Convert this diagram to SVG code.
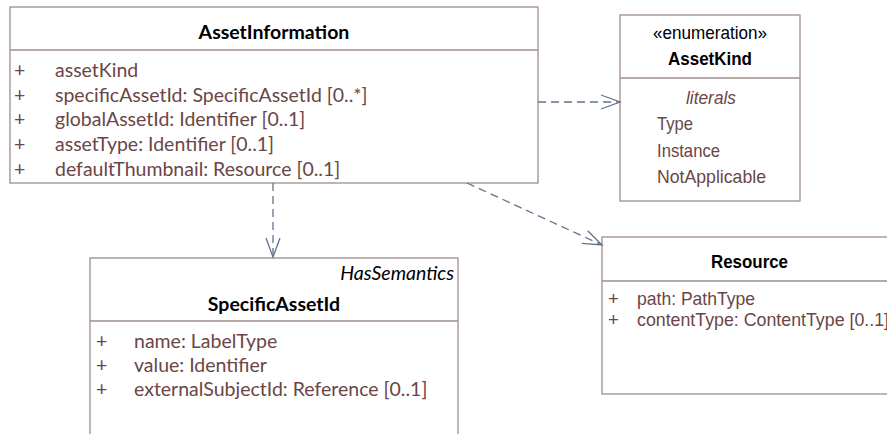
<svg xmlns="http://www.w3.org/2000/svg" width="887" height="434" viewBox="0 0 887 434">
<defs>
<style>
.box{fill:#fff;stroke:#a08c8c;stroke-width:1.3}
.sep{stroke:#a08c8c;stroke-width:1.3}
.cal{font-family:Lato,"Open Sans","DejaVu Sans",sans-serif;font-size:19.5px}
.ari{font-family:"Liberation Sans",Arial,sans-serif;font-size:18.5px}
.attr{fill:#6a4646}
.title{fill:#000;font-weight:bold}
.con{fill:none;stroke:#65718f;stroke-width:1.3;stroke-dasharray:8,5}
</style>
<marker id="open" markerUnits="userSpaceOnUse" markerWidth="22" markerHeight="16" refX="19" refY="7" orient="auto" viewBox="-1 -1 22 16">
<path d="M0,0 L19,7 L0,14" fill="none" stroke="#65718f" stroke-width="1.3"/>
</marker>
</defs>
<rect width="887" height="434" fill="#fff"/>
<g id="AssetInformation">
<rect class="box" x="10" y="7" width="528" height="176"/>
<line class="sep" x1="10" y1="50" x2="538" y2="50"/>
<text class="cal title" x="274" y="39" text-anchor="middle">AssetInformation</text>
<g class="cal attr">
<text x="14" y="77">+</text><text x="55" y="77">assetKind</text>
<text x="14" y="102">+</text><text x="55" y="102">specificAssetId: SpecificAssetId [0..*]</text>
<text x="14" y="126">+</text><text x="55" y="126">globalAssetId: Identifier [0..1]</text>
<text x="14" y="151">+</text><text x="55" y="151">assetType: Identifier [0..1]</text>
<text x="14" y="176">+</text><text x="55" y="176">defaultThumbnail: Resource [0..1]</text>
</g>
</g>
<g id="AssetKind">
<rect class="box" x="620" y="15" width="180" height="186"/>
<line class="sep" x1="620" y1="78" x2="800" y2="78"/>
<text class="ari" x="653" y="39" textLength="114" lengthAdjust="spacingAndGlyphs" fill="#000">«enumeration»</text>
<text class="ari title" x="668" y="65" textLength="84" lengthAdjust="spacingAndGlyphs">AssetKind</text>
<g class="ari attr">
<text x="686" y="104" textLength="50" lengthAdjust="spacingAndGlyphs" font-style="italic">literals</text>
<text x="657" y="130" textLength="36" lengthAdjust="spacingAndGlyphs">Type</text>
<text x="657" y="157" textLength="63" lengthAdjust="spacingAndGlyphs">Instance</text>
<text x="657" y="183" textLength="109" lengthAdjust="spacingAndGlyphs">NotApplicable</text>
</g>
</g>
<g id="SpecificAssetId">
<rect class="box" x="90" y="258" width="368" height="190"/>
<line class="sep" x1="90" y1="321" x2="458" y2="321"/>
<text class="cal" x="454" y="280" text-anchor="end" font-style="italic" fill="#000">HasSemantics</text>
<text class="cal title" x="274" y="311" text-anchor="middle">SpecificAssetId</text>
<g class="cal attr">
<text x="96" y="348">+</text><text x="134" y="348">name: LabelType</text>
<text x="96" y="372">+</text><text x="134" y="372">value: Identifier</text>
<text x="96" y="396">+</text><text x="134" y="396">externalSubjectId: Reference [0..1]</text>
</g>
</g>
<g id="Resource">
<rect class="box" x="602" y="237" width="296" height="157"/>
<line class="sep" x1="602" y1="281" x2="898" y2="281"/>
<text class="ari title" x="711" y="268" textLength="77" lengthAdjust="spacingAndGlyphs">Resource</text>
<g class="ari attr">
<text x="608" y="305">+</text><text x="637" y="305" textLength="118" lengthAdjust="spacingAndGlyphs">path: PathType</text>
<text x="608" y="326">+</text><text x="637" y="326" textLength="252" lengthAdjust="spacingAndGlyphs">contentType: ContentType [0..1]</text>
</g>
</g>
<g id="connectors">
<line class="con" x1="538" y1="102" x2="620" y2="102" marker-end="url(#open)"/>
<line class="con" x1="273" y1="183" x2="273" y2="257" marker-end="url(#open)"/>
<line class="con" x1="467" y1="183" x2="602" y2="245" marker-end="url(#open)"/>
</g>
</svg>
